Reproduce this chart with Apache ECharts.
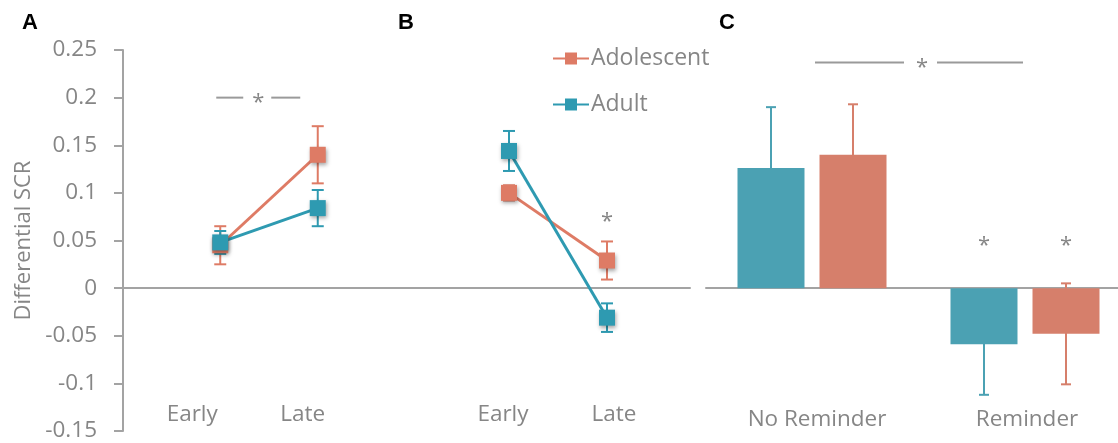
<!DOCTYPE html>
<html><head><meta charset="utf-8">
<script src="https://cdn.jsdelivr.net/npm/echarts@6/dist/echarts.min.js"></script>
<style>html,body{margin:0;padding:0;background:#fff}#c{width:1118px;height:443px}</style>
</head><body><div id="c"></div>
<script>
// ---- data ----
const phases = ['Early', 'Late'];
const conditions = ['No Reminder', 'Reminder'];
const groups = ['Adolescent', 'Adult'];
const yMin = -0.15, yMax = 0.25, yInterval = 0.05;

const aAdolescent = [0.045, 0.140];
const aAdolescentErr = [0.020, 0.030];
const aAdult = [0.048, 0.084];
const aAdultErr = [0.012, 0.019];

const bAdolescent = [0.100, 0.029];
const bAdolescentErr = [0.008, 0.020];
const bAdult = [0.144, -0.031];
const bAdultErr = [0.021, 0.015];

const cAdult = [0.126, -0.059];
const cAdultErr = [0.064, 0.053];
const cAdolescent = [0.140, -0.048];
const cAdolescentErr = [0.053, 0.053];

const sigA = 0.2;          // bracket Early vs Late (panel A)
const sigBLate = 0.075;    // star over Late (panel B)
const sigC = 0.237;        // bracket No Reminder vs Reminder (panel C)
const sigCStars = 0.05;    // stars above Reminder bars

// ---- styles ----
const GRAY = '#868686', AXIS = '#a3a3a3';
const TEAL_L = '#2e9ab1', SAL_L = '#de7b65';
const TEAL_B = '#4ba1b3', SAL_B = '#d67f6b';
const FONT = '"Open Sans", "Noto Sans", sans-serif';
const FS = 22.5;

const chart = echarts.init(document.getElementById('c'));

function yAx(i, show) {
  const base = {gridIndex: i, type: 'value', min: yMin, max: yMax, interval: yInterval, show: show};
  if (!show) return base;
  return Object.assign(base, {
    axisLine: {show: true, lineStyle: {color: AXIS, width: 2}},
    axisTick: {show: true, length: 9, lineStyle: {color: AXIS, width: 2}},
    splitLine: {show: false},
    axisLabel: {margin: 26, fontSize: FS, fontFamily: FONT, color: GRAY},
    name: 'Differential SCR', nameLocation: 'middle', nameGap: 88,
    nameTextStyle: {fontSize: 22, fontFamily: FONT, color: GRAY}
  });
}
function zeroAx(i) {
  return {gridIndex: i, type: 'value', min: 0, max: 1,
    axisLine: {show: true, onZero: true, lineStyle: {color: AXIS, width: 2}},
    axisTick: {show: false}, axisLabel: {show: false}, splitLine: {show: false}};
}
function catAx(i, data, margin, pads) {
  const rich = {};
  pads.forEach((p, k) => { rich['s' + k] = {padding: p, fontSize: FS, fontFamily: FONT, color: GRAY}; });
  return {gridIndex: i, type: 'category', data: data,
    axisLine: {show: false}, axisTick: {show: false}, splitLine: {show: false},
    axisLabel: {margin: margin, verticalAlign: 'middle', interval: 0,
      formatter: (v, k) => '{s' + k + '|' + v + '}', rich: rich}};
}
function errSeries(ax, vals, errs, color, offset, cap, z) {
  return {type: 'custom', xAxisIndex: ax, yAxisIndex: ax, z: z, silent: true,
    data: vals.map((v, i) => [i, v, errs[i]]),
    renderItem: (params, api) => {
      const i = api.value(0), v = api.value(1), e = api.value(2);
      const t = api.coord([i, v + e]), b = api.coord([i, v - e]);
      const x = t[0] + offset, st = {stroke: color, lineWidth: 2};
      return {type: 'group', children: [
        {type: 'line', shape: {x1: x, y1: t[1], x2: x, y2: b[1]}, style: st},
        {type: 'line', shape: {x1: x - cap / 2, y1: t[1], x2: x + cap / 2, y2: t[1]}, style: st},
        {type: 'line', shape: {x1: x - cap / 2, y1: b[1], x2: x + cap / 2, y2: b[1]}, style: st}
      ]};
    }};
}
function lineSeries(name, ax, vals, color) {
  return {type: 'line', name: name, xAxisIndex: ax, yAxisIndex: ax, data: vals, z: 3,
    symbol: 'rect', symbolSize: 16, lineStyle: {color: color, width: 3},
    itemStyle: {color: color, shadowBlur: 4, shadowColor: 'rgba(0,0,0,0.35)', shadowOffsetX: 1, shadowOffsetY: 2},
    emphasis: {disabled: true}, animation: false};
}
function starEl(x, y) {
  return {type: 'text', x: x, y: y + 5, style: {text: '*', fill: GRAY, font: '22px ' + FONT,
    align: 'center', verticalAlign: 'middle', textAlign: 'center', textVerticalAlign: 'middle'}};
}
function segEl(x1, x2, y) {
  return {type: 'line', shape: {x1: x1, y1: y, x2: x2, y2: y}, style: {stroke: '#9a9a9a', lineWidth: 2}};
}
const LETTER_FONT = 'bold 22px "Liberation Sans", Arial';

const option = {
  animation: false,
  grid: [
    {left: 123, width: 567, top: 50, bottom: 12, outerBoundsMode: 'none'},   // 0 shared y axis + zero line A/B
    {left: 171.5, width: 195, top: 50, bottom: 12, outerBoundsMode: 'none'}, // 1 panel A
    {left: 460, width: 196, top: 50, bottom: 12, outerBoundsMode: 'none'},   // 2 panel B
    {left: 705.5, width: 426, top: 50, bottom: 12, outerBoundsMode: 'none'}, // 3 panel C
    {left: 706, right: 0, top: 50, bottom: 12, outerBoundsMode: 'none'}      // 4 zero line C
  ],
  xAxis: [
    zeroAx(0),
    catAx(1, phases, -16, [[0, 56, 0, 0], [0, 30, 0, 0]]),
    catAx(2, phases, -16, [[0, 12, 0, 0], [0, 0, 0, 14]]),
    catAx(3, conditions, -11, [[0, 0, 0, 10], [0, 0, 0, 4]]),
    zeroAx(4)
  ],
  yAxis: [yAx(0, true), yAx(1, false), yAx(2, false), yAx(3, false), yAx(4, false)],
  legend: {data: groups, orient: 'vertical', left: 547, top: 42, itemWidth: 36, itemHeight: 15,
    itemGap: 23, textStyle: {fontSize: 23, fontFamily: FONT, color: GRAY, padding: [0, 0, 0, -3]}, selectedMode: false},
  graphic: [
    {type: 'text', x: 30, y: 23, style: {text: 'A', font: LETTER_FONT, fill: '#000', align: 'center', verticalAlign: 'middle'}},
    {type: 'text', x: 406, y: 23, style: {text: 'B', font: LETTER_FONT, fill: '#000', align: 'center', verticalAlign: 'middle'}},
    {type: 'text', x: 727, y: 23, style: {text: 'C', font: LETTER_FONT, fill: '#000', align: 'center', verticalAlign: 'middle'}}
  ],
  series: [
    lineSeries('Adolescent', 1, aAdolescent, SAL_L),
    lineSeries('Adult', 1, aAdult, TEAL_L),
    lineSeries('Adolescent', 2, bAdolescent, SAL_L),
    lineSeries('Adult', 2, bAdult, TEAL_L),
    errSeries(1, aAdolescent, aAdolescentErr, SAL_L, 0, 12, 1),
    errSeries(1, aAdult, aAdultErr, TEAL_L, 0, 12, 1),
    errSeries(2, bAdolescent, bAdolescentErr, SAL_L, 0, 12, 1),
    errSeries(2, bAdult, bAdultErr, TEAL_L, 0, 12, 1),
    {type: 'bar', name: 'Adult', xAxisIndex: 3, yAxisIndex: 3, data: cAdult, barWidth: 67, barGap: '22.4%',
      itemStyle: {color: TEAL_B}, z: 3, emphasis: {disabled: true}},
    {type: 'bar', name: 'Adolescent', xAxisIndex: 3, yAxisIndex: 3, data: cAdolescent, barWidth: 67, barGap: '22.4%',
      itemStyle: {color: SAL_B}, z: 3, emphasis: {disabled: true}},
    errSeries(3, cAdult, cAdultErr, TEAL_B, -41, 10, 1),
    errSeries(3, cAdolescent, cAdolescentErr, SAL_B, 41, 10, 1),
    // significance annotations
    {type: 'custom', xAxisIndex: 1, yAxisIndex: 1, silent: true, z: 5, data: [[0, sigA]],
      renderItem: (p, api) => { const e = api.coord([0, api.value(1)]);
        return {type: 'group', children: [segEl(e[0] - 4, e[0] + 23, e[1]), starEl(e[0] + 38, e[1]), segEl(e[0] + 51, e[0] + 80, e[1])]}; }},
    {type: 'custom', xAxisIndex: 2, yAxisIndex: 2, silent: true, z: 5, data: [[1, sigBLate]],
      renderItem: (p, api) => { const c = api.coord([api.value(0), api.value(1)]); return starEl(c[0], c[1]); }},
    {type: 'custom', xAxisIndex: 3, yAxisIndex: 3, silent: true, z: 5, data: [[0, sigC]],
      renderItem: (p, api) => { const e = api.coord([0, api.value(1)]);
        return {type: 'group', children: [segEl(e[0] + 3, e[0] + 92, e[1]), starEl(e[0] + 110, e[1]), segEl(e[0] + 125, e[0] + 211, e[1])]}; }},
    {type: 'custom', xAxisIndex: 3, yAxisIndex: 3, silent: true, z: 5, data: [[1, sigCStars]],
      renderItem: (p, api) => { const c = api.coord([api.value(0), api.value(1)]);
        return {type: 'group', children: [starEl(c[0] - 41, c[1]), starEl(c[0] + 41, c[1])]}; }}
  ]
};
chart.setOption(option);
</script></body></html>
